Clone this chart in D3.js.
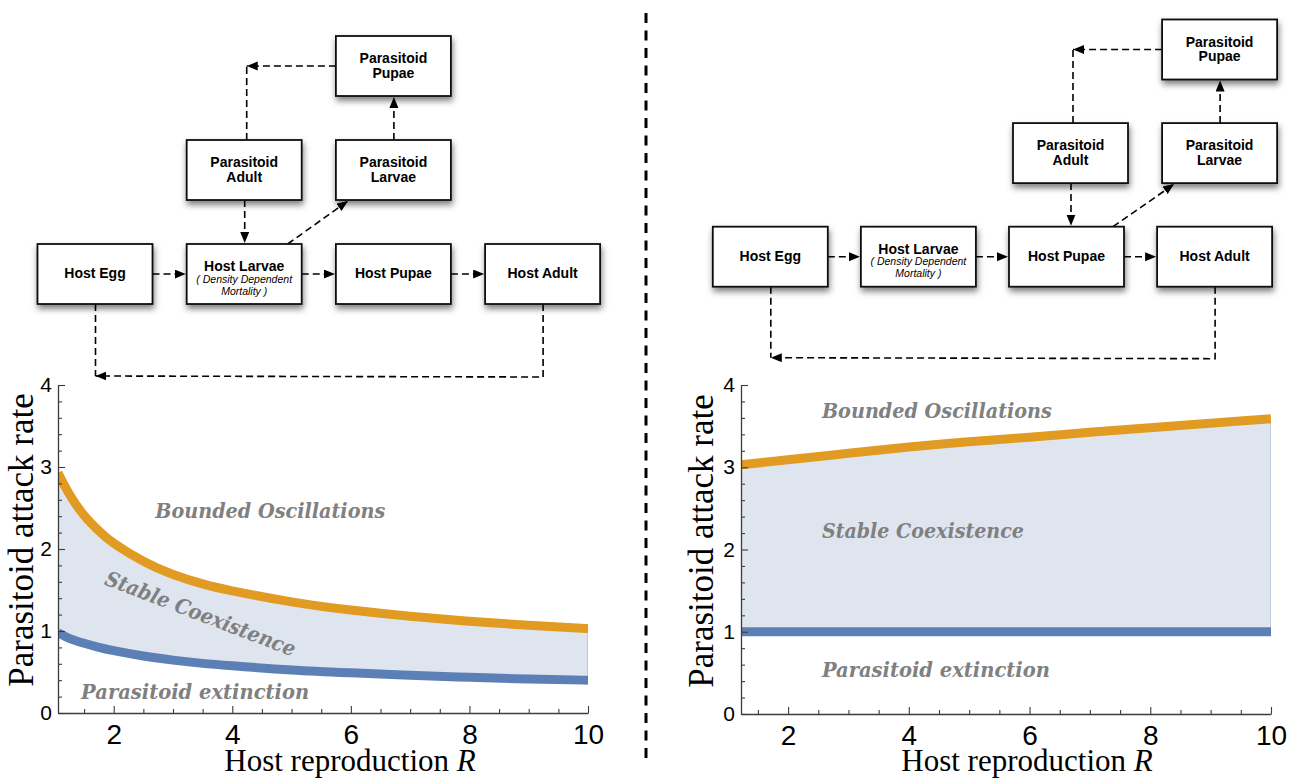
<!DOCTYPE html>
<html>
<head>
<meta charset="utf-8">
<script src="https://cdn.jsdelivr.net/npm/d3@7"></script>
<style>
  html, body { margin: 0; padding: 0; background: #ffffff; }
  svg { display: block; }
</style>
</head>
<body>
<svg id="fig" width="1290" height="778"></svg>
<script>
// ---- Life-cycle stage names ----
const hostStages = ["Host Egg", "Host Larvae", "Host Pupae", "Host Adult"];
const hostNote = ["( Density Dependent", "Mortality )"];
const parasitoidStages = [["Parasitoid", "Adult"], ["Parasitoid", "Larvae"], ["Parasitoid", "Pupae"]];

// ---- Panel A: parasitoid attacks host larvae ----
const rA   = [1.06, 1.25, 1.5, 1.75, 2, 2.5, 3, 3.5, 4, 5, 6, 7, 8, 9, 10];
const oscA = [2.93, 2.67, 2.41, 2.22, 2.07, 1.85, 1.69, 1.575, 1.49, 1.355, 1.255, 1.18, 1.12, 1.07, 1.03];
const extA = [0.98, 0.91, 0.85, 0.80, 0.76, 0.695, 0.645, 0.605, 0.575, 0.525, 0.49, 0.46, 0.435, 0.415, 0.40];

// ---- Panel B: parasitoid attacks host pupae ----
const rB   = [1.22, 2, 3, 4, 5, 6, 7, 8, 9, 10];
const oscB = [3.03, 3.09, 3.17, 3.245, 3.31, 3.365, 3.425, 3.48, 3.535, 3.59];
const extB = [1, 1, 1, 1, 1, 1, 1, 1, 1, 1];

// ---- Axis ticks and region names ----
const xTicks = [2, 4, 6, 8, 10];
const yTicks = [0, 1, 2, 3, 4];
const regionNames = ["Bounded Oscillations", "Stable Coexistence", "Parasitoid extinction"];

const svg = d3.select("#fig");
const defs = svg.append("defs");

defs.append("marker")
  .attr("id", "head")
  .attr("markerUnits", "userSpaceOnUse")
  .attr("markerWidth", 12).attr("markerHeight", 10)
  .attr("refX", 11).attr("refY", 4.5)
  .attr("orient", "auto")
  .append("path").attr("d", "M0,0 L11,4.5 L0,9 Z").attr("fill", "#000");

const shadow = defs.append("filter").attr("id", "boxShadow")
  .attr("x", "-20%").attr("y", "-20%").attr("width", "150%").attr("height", "160%");
shadow.append("feDropShadow")
  .attr("dx", 1).attr("dy", 4).attr("stdDeviation", 3)
  .attr("flood-color", "#000").attr("flood-opacity", 0.5);

// ---- Divider between the two panels ----
svg.append("line")
  .attr("x1", 646).attr("x2", 646).attr("y1", 13).attr("y2", 758)
  .attr("stroke", "#000").attr("stroke-width", 3)
  .attr("stroke-dasharray", "10,7.5");

// ---- Life-cycle diagram ----
function drawDiagram(cfg) {
  const g = svg.append("g");
  const W = 115, H = 60;
  const colX = i => cfg.x0 + i * cfg.dx;
  const rowY = j => cfg.y0 + j * cfg.dy;
  const dash = "7,4";

  const boxes = [];
  hostStages.forEach((name, i) => boxes.push({ x: colX(i), y: rowY(2), lines: [name], host: true, i }));
  const pa = { x: colX(cfg.attack) + cfg.pOff, y: rowY(1), lines: parasitoidStages[0] };
  const pl = { x: colX(cfg.attack + 1) + cfg.pOff2, y: rowY(1), lines: parasitoidStages[1] };
  const pp = { x: colX(cfg.attack + 1) + cfg.pOff2, y: rowY(0), lines: parasitoidStages[2] };
  boxes.push(pa, pl, pp);

  const hb = i => boxes[i];
  const link = (pts, arrow) => {
    g.append("path")
      .attr("d", d3.line()(pts))
      .attr("fill", "none").attr("stroke", "#000").attr("stroke-width", 1.6)
      .attr("stroke-dasharray", dash)
      .attr("marker-end", arrow ? "url(#head)" : null);
  };

  // host chain
  for (let i = 0; i < 3; i++) {
    const a = hb(i), b = hb(i + 1);
    link([[a.x + W, a.y + H / 2], [b.x - 1, b.y + H / 2]], true);
  }
  const target = hb(cfg.attack);
  // parasitoid adult attacks the host stage
  link([[pa.x + 58, pa.y + H], [pa.x + 58, target.y - 1]], true);
  // attacked host becomes parasitoid larva
  link([[target.x + cfg.diagFrom, target.y], [pl.x + 12, pl.y + H + 1]], true);
  // larva to pupa
  link([[pl.x + 58, pl.y], [pl.x + 58, pp.y + H + 1]], true);
  // pupa back to adult
  link([[pa.x + 60, pa.y], [pa.x + 60, pp.y + 30]], false);
  link([[pp.x, pp.y + 30], [pa.x + 60, pp.y + 30]], true);
  // host adult lays eggs
  const egg = hb(0), adult = hb(3);
  const loopY = egg.y + H + cfg.loop;
  link([[egg.x + 58, egg.y + H], [egg.x + 58, loopY]], false);
  link([[adult.x + 58, adult.y + H], [adult.x + 58, loopY + 1], [egg.x + 58, loopY]], true);

  // boxes
  const bg = g.selectAll("g.box").data(boxes).join("g").attr("class", "box");
  bg.append("rect")
    .attr("x", d => d.x).attr("y", d => d.y)
    .attr("width", W).attr("height", H)
    .attr("fill", "#fff").attr("stroke", "#111").attr("stroke-width", 1.8)
    .attr("filter", "url(#boxShadow)");
  bg.each(function (d) {
    const t = d3.select(this);
    const cx = d.x + W / 2;
    const font = "'Liberation Sans', Arial, sans-serif";
    if (d.host && d.i === 1) {
      t.append("text").attr("x", cx).attr("y", d.y + 27).attr("text-anchor", "middle")
        .attr("font-family", font).attr("font-weight", "bold").attr("font-size", 14)
        .text(d.lines[0]);
      hostNote.forEach((s, k) => {
        t.append("text").attr("x", cx).attr("y", d.y + 38.5 + k * 12).attr("text-anchor", "middle")
          .attr("font-family", font).attr("font-style", "italic").attr("font-size", 10.5)
          .text(s);
      });
    } else if (d.host) {
      t.append("text").attr("x", cx).attr("y", d.y + 34).attr("text-anchor", "middle")
        .attr("font-family", font).attr("font-weight", "bold").attr("font-size", 14)
        .text(d.lines[0]);
    } else {
      d.lines.forEach((s, k) => {
        t.append("text").attr("x", cx).attr("y", d.y + 27 + k * 14.5).attr("text-anchor", "middle")
          .attr("font-family", font).attr("font-weight", "bold").attr("font-size", 14)
          .text(s);
      });
    }
  });
}

drawDiagram({ x0: 37.5, y0: 36, dx: 149.2, dy: 104, attack: 1, pOff: 0, pOff2: 0, diagFrom: 101, loop: 72 });
drawDiagram({ x0: 712.8, y0: 19.5, dx: 148.1, dy: 103.6, attack: 2, pOff: 4, pOff2: 5, diagFrom: 104, loop: 71 });

// ---- Stability panels ----
function drawPanel(cfg) {
  const g = svg.append("g");
  const x = d3.scaleLinear().domain([cfg.r[0], 10]).range([cfg.left, cfg.right]);
  const y = d3.scaleLinear().domain([0, 4]).range([cfg.bottom, cfg.top]);
  const pts = cfg.r.map((r, i) => ({ r, hi: cfg.osc[i], lo: cfg.ext[i] }));
  const curve = d3.curveNatural;

  const clipId = "clip" + cfg.id;
  defs.append("clipPath").attr("id", clipId)
    .append("rect").attr("x", x(cfg.r[0])).attr("y", 0)
    .attr("width", x(10) - x(cfg.r[0])).attr("height", 778);

  const plot = g.append("g").attr("clip-path", `url(#${clipId})`);
  plot.append("path").datum(pts)
    .attr("d", d3.area().x(d => x(d.r)).y0(d => y(d.lo)).y1(d => y(d.hi)).curve(curve))
    .attr("fill", "#dfe5ef");
  const last = pts[pts.length - 1];
  plot.append("line")
    .attr("x1", x(last.r) - 0.5).attr("x2", x(last.r) - 0.5)
    .attr("y1", y(last.lo)).attr("y2", y(last.hi))
    .attr("stroke", "#bccadf").attr("stroke-width", 1);
  plot.append("path").datum(pts)
    .attr("d", d3.line().x(d => x(d.r)).y(d => y(d.lo)).curve(curve))
    .attr("fill", "none").attr("stroke", "#5c80b6").attr("stroke-width", 9);
  plot.append("path").datum(pts)
    .attr("d", d3.line().x(d => x(d.r)).y(d => y(d.hi)).curve(curve))
    .attr("fill", "none").attr("stroke", "#e19b22").attr("stroke-width", 9);

  // axes
  const axisColor = "#3c3c3c";
  const minorX = d3.range(1.5, 10, 0.5).filter(v => !xTicks.includes(v) && v > cfg.r[0]);
  const minorY = d3.range(0.2, 4, 0.2).filter(v => Math.abs(v - Math.round(v)) > 1e-6);

  const gxMinor = g.append("g").attr("transform", `translate(0,${y(0)})`)
    .call(d3.axisBottom(x).tickValues(minorX).tickSize(-4).tickFormat(""));
  gxMinor.select(".domain").remove();
  const gyMinor = g.append("g").attr("transform", `translate(${x(cfg.r[0])},0)`)
    .call(d3.axisLeft(y).tickValues(minorY).tickSize(-4).tickFormat(""));
  gyMinor.select(".domain").remove();

  const gx = g.append("g").attr("transform", `translate(0,${y(0)})`)
    .call(d3.axisBottom(x).tickValues(xTicks).tickSizeInner(-7).tickSizeOuter(0).tickPadding(11).tickFormat(d3.format("d")));
  gx.selectAll("text").attr("font-family", "'Liberation Sans', Arial, sans-serif").attr("font-size", 28).attr("fill", "#000");

  const gy = g.append("g").attr("transform", `translate(${x(cfg.r[0])},0)`)
    .call(d3.axisLeft(y).tickValues(yTicks).tickSizeInner(-7).tickSizeOuter(0).tickPadding(6).tickFormat(d3.format("d")));
  gy.selectAll("text").attr("font-family", "'Liberation Sans', Arial, sans-serif").attr("font-size", 21).attr("fill", "#000");

  [gx, gy, gxMinor, gyMinor].forEach(a => {
    a.selectAll("line").attr("stroke", axisColor).attr("stroke-width", 1.1);
    a.selectAll(".domain").attr("stroke", axisColor).attr("stroke-width", 1.3);
  });

  // axis titles
  g.append("text")
    .attr("transform", `translate(${cfg.yTitleX},${cfg.yTitleY}) rotate(-90)`)
    .attr("text-anchor", "middle")
    .attr("font-family", "'Liberation Serif', 'Times New Roman', serif").attr("font-size", 35)
    .text("Parasitoid attack rate");
  const xt = g.append("text")
    .attr("x", cfg.xTitleX).attr("y", cfg.xTitleY)
    .attr("text-anchor", "middle")
    .attr("font-family", "'Liberation Serif', 'Times New Roman', serif").attr("font-size", 31);
  xt.append("tspan").text("Host reproduction ");
  xt.append("tspan").attr("font-style", "italic").text("R");

  // region names
  const widths = [230, 202, 228];
  cfg.labels.forEach((L, i) => {
    const px = x(L.r), py = y(L.v);
    g.append("text")
      .attr("transform", `translate(${px},${py}) rotate(${L.angle || 0})`)
      .attr("text-anchor", L.anchor || "start")
      .attr("font-family", "'DejaVu Serif', serif")
      .attr("font-weight", "bold").attr("font-style", "italic")
      .attr("font-size", 21)
      .attr("textLength", widths[i]).attr("lengthAdjust", "spacingAndGlyphs")
      .attr("fill", "#808080")
      .text(regionNames[i]);
  });
}

drawPanel({
  id: "A", r: rA, osc: oscA, ext: extA,
  left: 58, right: 588, top: 385, bottom: 713,
  yTitleX: 33, yTitleY: 540, xTitleX: 350, xTitleY: 771,
  labels: [
    { r: 2.70, v: 2.38 },
    { r: 3.42, v: 1.13, angle: 21, anchor: "middle" },
    { r: 1.45, v: 0.17 }
  ]
});

drawPanel({
  id: "B", r: rB, osc: oscB, ext: extB,
  left: 741, right: 1271, top: 385, bottom: 714,
  yTitleX: 713, yTitleY: 541, xTitleX: 1027, xTitleY: 771,
  labels: [
    { r: 2.56, v: 3.60 },
    { r: 2.56, v: 2.14 },
    { r: 2.56, v: 0.45 }
  ]
});
</script>
</body>
</html>
